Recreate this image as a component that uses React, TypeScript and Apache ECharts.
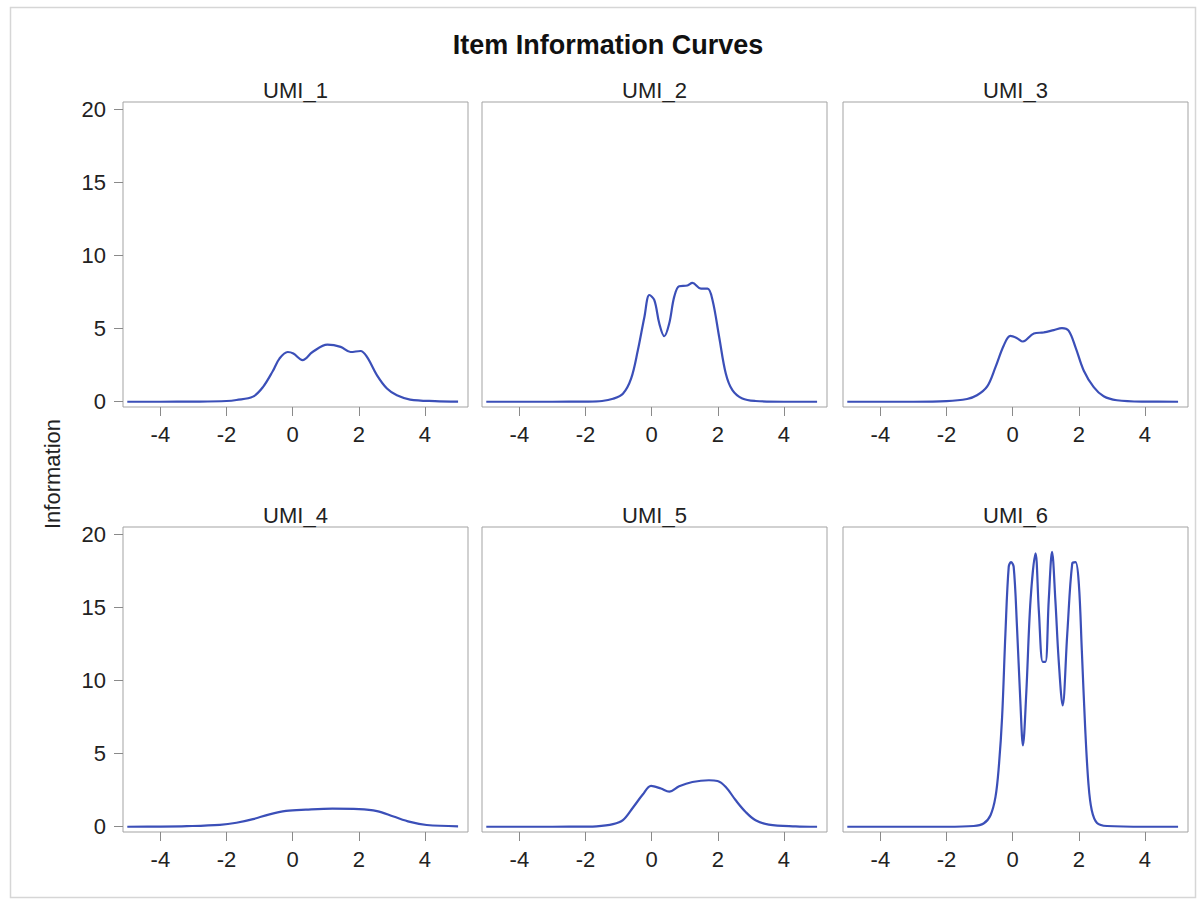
import React, { useEffect, useRef } from "react";
import * as echarts from "echarts";

const titleText = "Item Information Curves";
const yAxisTitle = "Information";
const panelNames = ["UMI_1", "UMI_2", "UMI_3", "UMI_4", "UMI_5", "UMI_6"];
const xTicks = [-4, -2, 0, 2, 4];
const yTicks = [0, 5, 10, 15, 20];

const umi1X = [-5, -4, -3, -2, -1.7, -1.2, -0.9, -0.6, -0.4, -0.15, 0.02, 0.3, 0.6, 1.05, 1.45, 1.75, 2.05, 2.25, 2.55, 2.85, 3.15, 3.55, 4.3, 5];
const umi1Y = [0, 0, 0.01, 0.05, 0.12, 0.35, 1.0, 2.1, 2.95, 3.4, 3.3, 2.85, 3.4, 3.9, 3.75, 3.4, 3.47, 3.05, 1.8, 0.9, 0.44, 0.15, 0.04, 0.01];

const umi2X = [-5, -3, -2, -1.5, -1.17, -0.87, -0.62, -0.42, -0.22, -0.07, 0.08, 0.23, 0.38, 0.53, 0.68, 0.83, 1.08, 1.23, 1.49, 1.69, 1.84, 2.04, 2.24, 2.44, 2.74, 3.14, 4, 5];
const umi2Y = [0, 0, 0.01, 0.05, 0.2, 0.55, 1.6, 3.5, 5.8, 7.3, 6.95, 5.35, 4.48, 5.35, 7.17, 7.9, 7.95, 8.13, 7.74, 7.74, 6.94, 4.43, 1.93, 0.79, 0.22, 0.05, 0, 0];

const umi3X = [-5, -3, -2, -1.38, -1.08, -0.77, -0.52, -0.27, -0.07, 0.13, 0.31, 0.64, 0.94, 1.24, 1.49, 1.69, 1.9, 2.15, 2.45, 2.75, 3.15, 4, 5];
const umi3Y = [0, 0, 0.04, 0.19, 0.44, 1.05, 2.37, 3.85, 4.5, 4.35, 4.12, 4.67, 4.74, 4.9, 5.04, 4.86, 3.72, 2.12, 1.0, 0.37, 0.1, 0.01, 0];

const umi4X = [-5, -4, -3.2, -2.2, -1.7, -1.2, -0.7, -0.2, 0.4, 1.2, 2.0, 2.55, 3.05, 3.55, 4.05, 5];
const umi4Y = [0, 0.01, 0.04, 0.13, 0.27, 0.52, 0.85, 1.08, 1.17, 1.24, 1.21, 1.07, 0.7, 0.33, 0.12, 0.03];

const umi5X = [-5, -3, -2, -1.67, -1.17, -0.87, -0.57, -0.27, -0.02, 0.28, 0.53, 0.83, 1.23, 1.73, 1.99, 2.24, 2.54, 2.84, 3.14, 3.54, 4.35, 5];
const umi5Y = [0, 0, 0.01, 0.03, 0.18, 0.45, 1.3, 2.2, 2.8, 2.61, 2.4, 2.77, 3.06, 3.18, 3.13, 2.72, 1.81, 1.01, 0.44, 0.15, 0.03, 0];

const umi6X = [-5, -3, -2, -1.18, -0.88, -0.67, -0.52, -0.42, -0.32, -0.22, -0.12, -0.05, 0.03, 0.13, 0.23, 0.31, 0.41, 0.54, 0.69, 0.79, 0.91, 0.99, 1.09, 1.19, 1.29, 1.39, 1.51, 1.65, 1.8, 1.9, 2.0, 2.09, 2.19, 2.29, 2.39, 2.55, 2.85, 4, 5];
const umi6Y = [0, 0, 0, 0.05, 0.22, 0.79, 2.04, 4.09, 7.5, 13.2, 17.77, 18.1, 17.77, 13.67, 8.65, 5.57, 9.1, 15.5, 18.7, 14.8, 11.27, 11.27, 15.5, 18.8, 15.5, 11.4, 8.3, 13.2, 18.0, 18.1, 16.6, 12.07, 6.83, 2.95, 1.13, 0.26, 0.05, 0, 0];

const seriesX = [umi1X, umi2X, umi3X, umi4X, umi5X, umi6X];
const seriesY = [umi1Y, umi2Y, umi3Y, umi4Y, umi5Y, umi6Y];

const FONT = "'Liberation Sans', Arial, sans-serif";
const LINE_COLOR = "#3b4fb8";
const TEXT_COLOR = "#222";

export default function App() {
  const ref = useRef<HTMLDivElement>(null);

  useEffect(() => {
    if (!ref.current) return;
    const chart = echarts.init(ref.current, undefined, { renderer: "svg" });

    const lefts = [123, 482, 843];
    const tops = [102, 527];
    const W = 345;
    const H = 305;

    const grids: any[] = [];
    const xAxes: any[] = [];
    const yAxes: any[] = [];
    const series: any[] = [];
    const graphics: any[] = [];

    for (let i = 0; i < 6; i++) {
      const col = i % 3;
      const row = Math.floor(i / 3);
      grids.push({
        left: lefts[col],
        top: tops[row],
        width: W,
        height: H,
        show: true,
        borderColor: "#a3a3a3",
        borderWidth: 1,
        backgroundColor: "transparent",
        containLabel: false,
      });
      xAxes.push({
        type: "value",
        gridIndex: i,
        position: "bottom",
        min: -5.13,
        max: 5.3,
        axisLine: { show: false, onZero: false },
        splitLine: { show: false },
        axisTick: {
          show: true,
          length: 9,
          customValues: xTicks,
          lineStyle: { color: "#8a8a8a", width: 1 },
        },
        axisLabel: {
          customValues: xTicks,
          fontSize: 22,
          fontFamily: FONT,
          color: TEXT_COLOR,
          margin: 16,
        },
      });
      yAxes.push({
        type: "value",
        gridIndex: i,
        position: "left",
        min: -0.36,
        max: 20.5,
        axisLine: { show: false, onZero: false },
        splitLine: { show: false },
        axisTick: {
          show: col === 0,
          length: 9,
          customValues: yTicks,
          lineStyle: { color: "#8a8a8a", width: 1 },
        },
        axisLabel: {
          show: col === 0,
          customValues: yTicks,
          fontSize: 22,
          fontFamily: FONT,
          color: TEXT_COLOR,
          margin: 17,
        },
      });
      series.push({
        type: "line",
        name: panelNames[i],
        xAxisIndex: i,
        yAxisIndex: i,
        data: seriesX[i].map((x, k) => [x, seriesY[i][k]]),
        showSymbol: false,
        smooth: 0.35,
        lineStyle: { color: LINE_COLOR, width: 2.2 },
        itemStyle: { color: LINE_COLOR },
      });
      graphics.push({
        type: "text",
        x: lefts[col] + W / 2,
        y: tops[row] - 12,
        style: {
          text: panelNames[i],
          font: `22px ${FONT}`,
          fill: TEXT_COLOR,
          textAlign: "center",
          textVerticalAlign: "middle",
        },
      });
    }

    graphics.push({
      type: "rect",
      shape: { x: 10.5, y: 7.5, width: 1185, height: 890 },
      style: { fill: "none", stroke: "#d6d6d6", lineWidth: 1.5 },
      silent: true,
    });
    graphics.push({
      type: "text",
      x: 608,
      y: 45,
      style: {
        text: titleText,
        font: `bold 27px ${FONT}`,
        fill: "#111",
        textAlign: "center",
        textVerticalAlign: "middle",
      },
    });
    graphics.push({
      type: "text",
      x: 52,
      y: 474,
      rotation: Math.PI / 2,
      style: {
        text: yAxisTitle,
        font: `22px ${FONT}`,
        fill: TEXT_COLOR,
        textAlign: "center",
        textVerticalAlign: "middle",
      },
    });

    chart.setOption({
      animation: false,
      backgroundColor: "#ffffff",
      grid: grids,
      xAxis: xAxes,
      yAxis: yAxes,
      series,
      graphic: graphics,
    });

    return () => chart.dispose();
  }, []);

  return (
    <div
      ref={ref}
      style={{ position: "fixed", left: 0, top: 0, width: 1203, height: 905, background: "#fff" }}
    />
  );
}
